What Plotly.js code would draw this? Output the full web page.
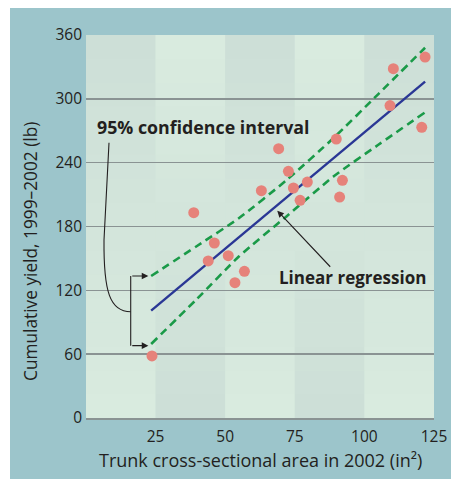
<!DOCTYPE html>
<html>
<head>
<meta charset="utf-8">
<script src="https://cdn.plot.ly/plotly-3.0.1.min.js"></script>
<style>html,body{margin:0;padding:0;background:#fff;}#chart{width:451px;height:479px;}</style>
</head>
<body>
<div id="chart"></div>
<script>
// Observed trees
const trunkArea = [121.8, 110.4, 109.2, 120.6, 89.9, 69.2, 72.7, 79.5, 74.5, 92.1, 63.0, 76.9, 91.1, 38.7, 46.1, 43.9, 51.1, 56.9, 53.5, 23.7];
const cumYield  = [339.3, 328.3, 293.7, 273.2, 262.2, 253.1, 231.9, 221.8, 216.2, 223.4, 213.7, 204.6, 207.7, 193.0, 164.5, 147.6, 152.6, 137.9, 127.2, 58.3];

// Fitted regression line
const regX = [23.4, 121.8];
const regY = [100.9, 316.1];

// 95% confidence interval bounds
const ciX     = [23.4, 40, 55, 72, 89, 105, 121.8];
const ciUpper = [133.5, 161.9, 188.0, 223.5, 263.4, 304.5, 348.0];
const ciLower = [69.6, 112.3, 152.0, 189.5, 227.2, 256.8, 287.3];

// Axis ticks
const xTicks = [25, 50, 75, 100, 125];
const yTicks = [0, 60, 120, 180, 240, 300, 360];

const FONT = '"Open Sans", "Noto Sans", sans-serif';
const INK = '#231f20';

// background column bands with vertical gradient
const dark = [205, 223, 215], light = [217, 235, 223];
const bandEdges = [0, 25, 50, 75, 100, 125];
const shapes = [];
const N = 16;
for (let i = 0; i < bandEdges.length - 1; i++) {
  for (let k = 0; k < N; k++) {
    const t = (k + 0.5) / N; // 0 = bottom, 1 = top
    const f = (i % 2 === 0) ? t : 1 - t; // weight of dark
    const c = dark.map((d, j) => Math.round(d * f + light[j] * (1 - f)));
    shapes.push({
      type: 'rect', xref: 'x', yref: 'y', layer: 'below',
      x0: bandEdges[i], x1: bandEdges[i + 1],
      y0: 360 * k / N, y1: 360 * (k + 1) / N,
      fillcolor: 'rgb(' + c.join(',') + ')', line: {width: 0}
    });
  }
}
// white margins top and left
shapes.push({type: 'rect', xref: 'paper', yref: 'paper', layer: 'below',
  x0: -0.4, x1: (10 - 86) / 348, y0: -0.3, y1: 1.3, fillcolor: '#ffffff', line: {width: 0}});
shapes.push({type: 'rect', xref: 'paper', yref: 'paper', layer: 'below',
  x0: -0.4, x1: 1.2, y0: (418 - 8) / 383, y1: 1.3, fillcolor: '#ffffff', line: {width: 0}});
// leader curve from CI label
shapes.push({type: 'path', xref: 'x', yref: 'y', layer: 'above',
  path: 'M 8.26,258.8 L 6.47,167.3 C 6.29,118.4 8.62,99.9 16.06,99.9',
  line: {color: INK, width: 1.1}});
// bracket vertical
shapes.push({type: 'line', xref: 'x', yref: 'y', layer: 'above',
  x0: 16.06, x1: 16.06, y0: 133.5, y1: 68.0, line: {color: INK, width: 1.1}});

const traces = [
  {x: ciX, y: ciUpper, mode: 'lines', line: {color: '#1a9a48', width: 2.6, dash: '8px,5px', shape: 'spline', smoothing: 0.6}, hoverinfo: 'skip'},
  {x: ciX, y: ciLower, mode: 'lines', line: {color: '#1a9a48', width: 2.6, dash: '8px,5px', shape: 'spline', smoothing: 0.6}, hoverinfo: 'skip'},
  {x: regX, y: regY, mode: 'lines', line: {color: '#2a3795', width: 2.4}, hoverinfo: 'skip'},
  {x: trunkArea, y: cumYield, mode: 'markers', marker: {color: '#e6827a', size: 11, line: {width: 0}}}
];

const annotations = [
  {xref: 'paper', yref: 'paper', x: (30 - 86) / 348, y: (418 - 252) / 383, xanchor: 'center', yanchor: 'middle', textangle: -90,
   text: 'Cumulative yield, 1999–2002 (lb)', showarrow: false, font: {family: FONT, size: 17.3, color: INK}},
  {xref: 'paper', yref: 'paper', x: 0.5, y: (418 - 460) / 383, xanchor: 'center', yanchor: 'middle',
   text: 'Trunk cross-sectional area in 2002 (in²)', showarrow: false, font: {family: FONT, size: 18, color: INK}},
  {xref: 'paper', yref: 'paper', x: (95 - 86) / 348, xanchor: 'left', y: (418 - 127) / 383, yanchor: 'middle',
   text: '95% confidence interval', showarrow: false, font: {family: FONT, size: 17.8, color: INK, weight: 700}},
  {xref: 'paper', yref: 'paper', x: (277 - 86) / 348, xanchor: 'left', y: (418 - 277) / 383, yanchor: 'middle',
   text: 'Linear regression', showarrow: false, font: {family: FONT, size: 17, color: INK, weight: 700}},
  {xref: 'x', yref: 'y', x: 68.7, y: 194.9, ax: 54.4, ay: 57.6, text: '', showarrow: true,
   arrowhead: 2, arrowsize: 1.2, arrowwidth: 1.1, arrowcolor: INK, standoff: 0, startstandoff: 0},
  {xref: 'x', yref: 'y', x: 22.4, y: 133.5, ax: -17.6, ay: 0, text: '', showarrow: true,
   arrowhead: 2, arrowsize: 1.2, arrowwidth: 1.1, arrowcolor: INK, standoff: 0, startstandoff: 0},
  {xref: 'x', yref: 'y', x: 22.4, y: 68.0, ax: -17.6, ay: 0, text: '', showarrow: true,
   arrowhead: 2, arrowsize: 1.2, arrowwidth: 1.1, arrowcolor: INK, standoff: 0, startstandoff: 0}
];

const layout = {
  width: 451, height: 479,
  margin: {l: 86, r: 17, t: 35, b: 61, pad: 0},
  paper_bgcolor: '#9cc5cb',
  plot_bgcolor: '#d3e5db',
  showlegend: false,
  font: {family: FONT, color: INK, size: 15},
  xaxis: {range: [0, 125], tickvals: xTicks, ticktext: xTicks.map(String), showgrid: false, zeroline: false,
          showline: true, linecolor: '#8a9393', linewidth: 2, ticks: '', ticklabelstandoff: 3,
          tickfont: {size: 15.5, color: INK}, fixedrange: true},
  yaxis: {range: [0, 360], tickvals: yTicks, ticktext: yTicks.map(String), showgrid: true, gridcolor: '#8a9393', gridwidth: 1.4,
          zeroline: false, showline: false, ticks: '', ticklabelstandoff: 3,
          tickfont: {size: 15.5, color: INK}, fixedrange: true},
  shapes: shapes,
  annotations: annotations
};

Plotly.newPlot('chart', traces, layout, {displayModeBar: false, staticPlot: true});
</script>
</body>
</html>
